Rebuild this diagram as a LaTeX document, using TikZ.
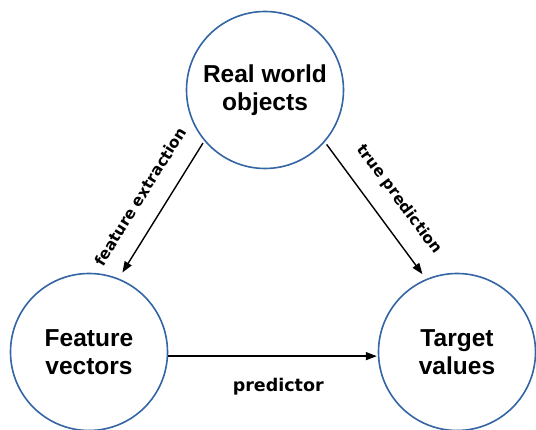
\documentclass[tikz,border=0pt]{standalone}
\usepackage{fontspec}
\setmainfont{Liberation Sans}
\newfontfamily\labelfont{DejaVu Sans}
\usetikzlibrary{arrows.meta}

\begin{document}
\begin{tikzpicture}
        [x=1pt, y=1pt,
        % Styles
        concept/.style={circle, draw=circleblue, line width=1.6pt, minimum size=157pt,
                align=center, font=\bfseries\fontsize{24.5}{28.5}\selectfont},
        flow/.style={-{Triangle[length=11pt, width=8pt]}, line width=1.4pt},
        flow text/.style={font=\labelfont\bfseries\fontsize{15.5}{18}\selectfont}]

        % Colors
        \definecolor{circleblue}{RGB}{52,101,164}

        \useasboundingbox (0, 0) rectangle (536, 430);

        % The graphic
        \node[concept] (world) at (265, 340) {Real world\\objects};
        \node[concept] (features) at (89, 78) {Feature\\vectors};
        \node[concept] (targets) at (457, 78) {Target\\values};

        \draw[flow, shorten <=2.5pt, shorten >=7pt] (world.220) --
                node [midway, sloped, above=15pt, flow text] {feature extraction} (features.68);
        \draw[flow, shorten <=3pt, shorten >=6pt] (world.319) --
                node [pos=0.53, sloped, above=14pt, flow text] {true prediction} (targets.113);
        \draw[flow, shorten >=1pt] (features.357) --
                node [pos=0.525, below=18pt, flow text, font=\labelfont\bfseries\fontsize{17.5}{20}\selectfont]
                {predictor} (targets.183);
\end{tikzpicture}
\end{document}
